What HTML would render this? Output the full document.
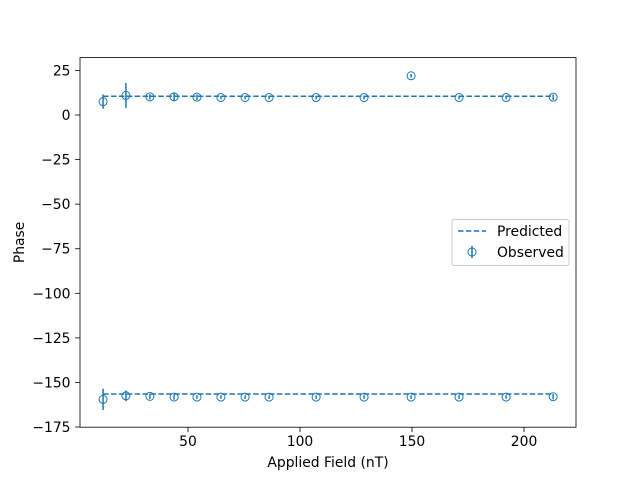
<!DOCTYPE html>
<html><head><meta charset="utf-8"><style>body{margin:0;background:#fff}svg{display:block;font-family:"DejaVu Sans","Liberation Sans",sans-serif}</style></head>
<body>
<svg id="chart" width="640" height="480" viewBox="0 0 640 480" xmlns="http://www.w3.org/2000/svg"></svg>
<script>
const fields = [12.1,22.3,33.0,43.8,54.0,64.7,75.5,86.2,107.2,128.6,149.6,171,192,213];
const upperPhase = [7.5,11,10.2,10.2,10,9.8,9.8,9.8,9.8,9.8,22,9.8,9.8,10];
const upperErr = [4,7,1.5,2.5,1.5,1,1,1,1,1,1,1,1,1.5];
const lowerPhase = [-159.5,-157.5,-157.8,-158.2,-158.2,-158.2,-158.2,-158.2,-158.2,-158.2,-158.2,-158.2,-158.2,-158];
const lowerErr = [6,3,1.5,1.5,1,1,1,1,1,1,1,1,1,1.5];
const predictedUpper = 10.5;
const predictedLower = -156.5;
const xTicks = [50,100,150,200];
const yTicks = [25,0,-25,-50,-75,-100,-125,-150,-175];

const NS="http://www.w3.org/2000/svg", svg=document.getElementById('chart'), C='#1f77b4', FS=13.9;
const L=80,R=576,T=57.6,B=427.2, X0=1.8,X1=223.2, Y0=-175.1,Y1=32.2;
const sx=v=>L+(v-X0)/(X1-X0)*(R-L), sy=v=>B-(v-Y0)/(Y1-Y0)*(B-T);
function el(t,a,txt){const e=document.createElementNS(NS,t);for(const k in a)e.setAttribute(k,a[k]);if(txt!=null)e.textContent=txt;svg.appendChild(e);return e;}
let e=el('rect',{x:L,y:T,width:R-L,height:B-T,fill:'none',stroke:'#000','stroke-width':0.8});


xTicks.forEach(v=>{
  let t=el('line',{x1:sx(v),x2:sx(v),y1:B,y2:B+4.9,stroke:'#000','stroke-width':0.8});
  
  
  let l=el('text',{x:sx(v),y:B+19,'text-anchor':'middle','font-size':FS},String(v));
  
  
});
yTicks.forEach(v=>{
  let t=el('line',{x1:L-4.9,x2:L,y1:sy(v),y2:sy(v),stroke:'#000','stroke-width':0.8});
  
  
  let l=el('text',{x:L-9.5,y:sy(v)+5,'text-anchor':'end','font-size':FS},String(v).replace('-','\u2212'));
  
  
});
e=el('text',{x:(L+R)/2,y:467,'text-anchor':'middle','font-size':FS},'Applied Field (nT)');


e=el('text',{x:24,y:(T+B)/2,'text-anchor':'middle','font-size':FS,transform:`rotate(-90 24 ${(T+B)/2})`},'Phase');


[predictedUpper,predictedLower].forEach(p=>{
  let ln=el('line',{x1:sx(fields[0]),x2:sx(fields[fields.length-1]),y1:sy(p),y2:sy(p),stroke:C,'stroke-width':1.5,'stroke-dasharray':'5.5,2.4'});
  
  
});
function pts(vals,errs){
  fields.forEach((f,i)=>{
    let x=sx(f),y=sy(vals[i]);
    let eb=el('line',{x1:x,x2:x,y1:sy(vals[i]+errs[i]),y2:sy(vals[i]-errs[i]),stroke:C,'stroke-width':1.5});
    
    
    let c=el('circle',{cx:x,cy:y,r:4,fill:'none',stroke:C,'stroke-width':1});
    
    
  });
}
pts(upperPhase,upperErr); pts(lowerPhase,lowerErr);
e=el('rect',{x:452,y:219.5,width:117,height:46,rx:2,fill:'#fff',stroke:'#ccc','stroke-width':1});


e=el('line',{x1:458,x2:486,y1:231,y2:231,stroke:C,'stroke-width':1.5,'stroke-dasharray':'5.5,2.4'});


e=el('text',{x:497,y:236,'font-size':FS},'Predicted');


e=el('line',{x1:472,x2:472,y1:246,y2:258,stroke:C,'stroke-width':1.5});


e=el('circle',{cx:472,cy:252,r:4,fill:'none',stroke:C,'stroke-width':1});


e=el('text',{x:497,y:257,'font-size':FS},'Observed');


</script>
</body></html>
